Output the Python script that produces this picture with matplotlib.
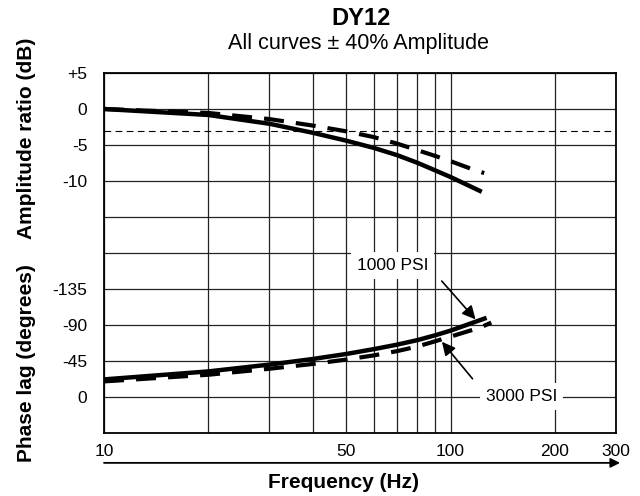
import matplotlib as mpl
mpl.use('Agg')
import matplotlib.pyplot as plt
import numpy as np

plt.rcParams['font.family'] = ['Liberation Sans', 'DejaVu Sans']

# amplitude ratio (dB)
amp_freq_1000 = [10, 20, 30, 40, 50, 60, 70, 80, 90, 100, 123]
amp_1000 = [0, -0.83, -2.05, -3.3, -4.4, -5.4, -6.4, -7.45, -8.5, -9.45, -11.5]
amp_freq_3000 = [10, 20, 30, 40, 50, 60, 70, 80, 90, 100, 116, 125]
amp_3000 = [0, -0.55, -1.4, -2.3, -3.1, -3.9, -4.8, -5.7, -6.5, -7.25, -8.4, -8.9]

# phase lag (degrees)
ph_freq_1000 = [10, 20, 30, 40, 50, 60, 70, 80, 90, 100, 127]
ph_1000 = [-22, -32, -40.5, -47.5, -53.8, -59.8, -65.4, -71, -77, -83, -99]
ph_freq_3000 = [10, 20, 30, 40, 50, 60, 70, 80, 90, 100, 122, 131]
ph_3000 = [-19.5, -27.8, -35.3, -41.3, -46.8, -52, -57.3, -63, -69.5, -75.5, -87, -93]

x_grid = [10, 20, 30, 40, 50, 60, 70, 80, 90, 100, 200, 300]
x_labels = ['10', '', '', '', '50', '', '', '', '', '100', '200', '300']
amp_grid = [5, 0, -5, -10, -15, -20, -25, -30, -35, -40]
amp_labels = ['+5', '0', '-5', '-10', '', '', '', '', '', '']
ph_ticks = [-135, -90, -45, 0]
ph_labels = ['-135', '-90', '-45', '0']

fig = plt.figure(figsize=(6.4, 4.96), dpi=100)
ax = fig.add_axes([104 / 640, 63 / 496, 512 / 640, 360 / 496])
ax.set_xscale('log')
ax.set_xlim(10, 300)
ax.set_ylim(-45, 5)
ax.set_xticks(x_grid)
ax.set_xticklabels(x_labels)
ax.xaxis.set_minor_locator(mpl.ticker.NullLocator())
ax.set_yticks(amp_grid)
ax.set_yticklabels(amp_labels)
ax.tick_params(axis='both', length=0, labelsize=12.5)
ax.tick_params(axis='y', pad=12)
ax.tick_params(axis='x', pad=8)
ax.grid(True, color='#222222', lw=0.9)
for s in ax.spines.values():
    s.set_linewidth(1.3)

ax.axhline(-3, color='k', lw=0.8, dashes=(6, 4), zorder=2)
ax.plot(amp_freq_1000, amp_1000, color='k', lw=3.2, solid_capstyle='butt',
        solid_joinstyle='round', zorder=3)
ax.plot(amp_freq_3000, amp_3000, color='k', lw=3.0, dashes=(4.8, 2.9), zorder=3)

ax2 = ax.twinx()
ax2.set_ylim(45, -405)
ax2.yaxis.tick_left()
ax2.set_yticks(ph_ticks)
ax2.set_yticklabels(ph_labels)
ax2.tick_params(axis='y', length=0, labelsize=12.5, pad=12)
for s in ax2.spines.values():
    s.set_visible(False)

ax2.plot(ph_freq_1000, ph_1000, color='k', lw=3.2, solid_capstyle='butt',
         solid_joinstyle='round', zorder=3)
ax2.plot(ph_freq_3000, ph_3000, color='k', lw=3.0, dashes=(4.8, 2.9), zorder=3)

arrow = dict(arrowstyle='-|>', color='k', lw=1.2, mutation_scale=20, shrinkA=8, shrinkB=0)
ax2.annotate('1000 PSI', xy=(118, -97), xytext=(68, -164), fontsize=12.5,
             ha='center', va='center',
             bbox=dict(boxstyle='square,pad=0.35', fc='white', ec='none'),
             arrowprops=dict(relpos=(1, 0.5), **arrow))
ax2.annotate('3000 PSI', xy=(94.4, -69), xytext=(160, -1), fontsize=12.5,
             ha='center', va='center',
             bbox=dict(boxstyle='square,pad=0.35', fc='white', ec='none'),
             arrowprops=dict(relpos=(0, 0.6), **arrow))

# frequency arrow under the axis
ax.annotate('', xy=(1.008, -0.083), xytext=(0, -0.083),
            xycoords='axes fraction', textcoords='axes fraction',
            arrowprops=dict(arrowstyle='-|>', color='k', lw=1.3,
                            mutation_scale=14, shrinkA=0, shrinkB=0),
            annotation_clip=False)

fig.text(361 / 640, 1 - 25 / 496, 'DY12', ha='center', va='baseline',
         fontsize=17, fontweight='bold')
fig.text(358 / 640, 1 - 48.5 / 496, 'All curves \u00b1 40% Amplitude', ha='center',
         va='baseline', fontsize=15.5)
fig.text(27 / 640, 1 - 138 / 496, 'Amplitude ratio (dB)', rotation=90,
         ha='center', va='center', fontsize=15, fontweight='bold')
fig.text(27 / 640, 1 - 363 / 496, 'Phase lag (degrees)', rotation=90,
         ha='center', va='center', fontsize=15, fontweight='bold')
fig.text(344 / 640, 1 - 482 / 496, 'Frequency (Hz)', ha='center', va='center',
         fontsize=15, fontweight='bold')

fig.savefig('out.png', dpi=100)
